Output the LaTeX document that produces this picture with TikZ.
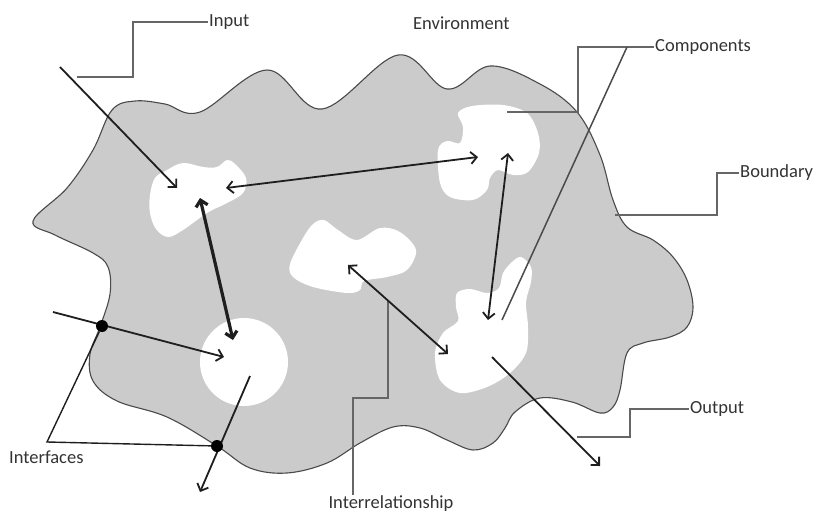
\documentclass[tikz,border=0pt]{standalone}
\usepackage{fontspec}
\setmainfont{Carlito}
\usetikzlibrary{arrows.meta}
\definecolor{blobfill}{HTML}{CBCBCB}
\definecolor{blobedge}{HTML}{4A4A4A}
\definecolor{arrowdark}{HTML}{1E1E1E}
\definecolor{calloutgray}{HTML}{666666}
\definecolor{labelgray}{HTML}{333333}
\begin{document}
\begin{tikzpicture}[x=1pt,y=-1pt,
  lbl/.style={font=\fontsize{18.5}{20}\selectfont, text=labelgray, inner sep=1pt, anchor=west},
  callout/.style={draw=calloutgray, line width=1.9pt},
  barb/.tip={Straight Barb[length=6pt,width=12pt]},
  flow/.style={draw=arrowdark, line width=1.8pt, -barb},
  twoway/.style={draw=arrowdark, line width=1.8pt, barb-barb},
  strong/.style={draw=arrowdark, line width=3.2pt, barb-barb},
  portdot/.style={circle, fill=black, inner sep=0pt, minimum size=12pt},
  part/.style={fill=white, draw=none}
]
\useasboundingbox (0,0) rectangle (819,514);

% system boundary
\filldraw[fill=blobfill, draw=blobedge, line width=1.1pt]
  plot[smooth cycle, tension=0.6] coordinates {
  (33,221) (67,188) (93,150) (112,110) (135,101) (165,104) (200,112)
  (267,70) (322,109) (398,55)
  (447,89) (490,66) (540,84) (577,112) (600,155) (613,200)
  (627,227) (653,240) (673,257) (687,280) (693,307) (687,327) (670,337)
  (643,343) (627,353) (620,390) (613,407) (600,413) (572,402) (540,398)
  (515,412) (505,428) (493,443) (473,450) (447,440) (420,428) (393,427)
  (360,443) (327,463) (287,473) (250,468) (217,446) (167,417) (117,401)
  (93,381) (90,354) (100,327) (110,294) (108,267) (93,253) (55,235)};

% components
\fill[part] plot[smooth cycle, tension=0.6] coordinates {
  (150,195) (155,178) (167,170) (183,163) (203,167) (217,167) (227,160)
  (235,164) (246,178) (243,193) (227,203) (207,213) (183,230) (168,237)
  (156,229) (150,213)};
\fill[part] plot[smooth cycle, tension=0.55] coordinates {
  (458,113) (472,106) (503,105) (527,113) (538,133) (539,153) (528,172)
  (513,175) (498,170) (490,178) (487,190) (473,200) (450,197) (440,183)
  (438,150) (447,141) (460,143) (463,127)};
\fill[part] plot[smooth cycle, tension=0.55] coordinates {
  (290,264) (303,238) (313,224) (324,220) (338,230) (357,240) (380,228)
  (400,232) (416,250) (407,270) (387,277) (364,281) (360,290) (347,293)
  (313,287) (293,277)};
\fill[part] (244,362) circle[radius=44];
\fill[part] plot[smooth cycle, tension=0.55] coordinates {
  (512,262) (521,257) (531,267) (531,282) (526,302) (528,327) (526,353)
  (510,373) (487,387) (460,393) (440,380) (435,353) (443,333) (458,321)
  (456,307) (457,293) (470,289) (487,293) (499,288) (503,273)};

% anchor points
\coordinate (inS) at (60,67);    \coordinate (inE) at (177,188);
\coordinate (tlR) at (226,188);  \coordinate (trL) at (478,157);
\coordinate (tlB) at (200,198);  \coordinate (ciT) at (233,340);
\coordinate (ifS) at (53,312);   \coordinate (ciL) at (224,357);
\coordinate (ciB) at (250,376);  \coordinate (exA) at (200,492);
\coordinate (midC) at (348,265); \coordinate (brL) at (448,354);
\coordinate (trB) at (508,153);  \coordinate (brT) at (488,320);
\coordinate (brC) at (492,357);  \coordinate (exB) at (600,466);

% labels
\node[lbl] (linput) at (208,22) {Input};
\node[lbl] (lenv) at (412,23) {Environment};
\node[lbl] (lcomp) at (654,47) {Components};
\node[lbl] (lbound) at (739,173) {Boundary};
\node[lbl] (lout) at (689,409) {Output};
\node[lbl] (lif) at (8,457) {Interfaces};
\node[lbl, anchor=center] (lrel) at (391,504) {Interrelationship};

% callout leaders
\coordinate (inC) at (77,77);
\draw[callout] (inC) -| (133,22) -- (linput.west);
\coordinate (cpA) at (507,112);
\draw[callout] (cpA) -| (578,47) -- (lcomp.west);
\coordinate (cpB) at (627,47);
\coordinate (cpE) at (502,320);
\draw[arrowdark!80!white, line width=1.5pt] (cpB) -- (cpE);
\coordinate (bdA) at (615,215);
\draw[callout] (bdA) -| (717,173) -- (lbound.west);
\coordinate (otA) at (577,437);
\draw[callout] (otA) -| (630,409) -- (lout.west);
\coordinate (rlA) at (388,300);
\draw[callout, line width=1.6pt] (rlA) -- (388,398) -| (lrel.north -| 353,0);
\coordinate (ifT) at (47,442);

% flows
\draw[flow] (inS) -- (inE);
\draw[twoway] (tlR) -- (trL);
\draw[strong] (tlB) -- (ciT);
\draw[flow] (ifS) -- (ciL);
\draw[flow] (ciB) -- (exA);
\draw[twoway] (midC) -- (brL);
\draw[twoway] (trB) -- (brT);
\draw[flow] (brC) -- (exB);

% interfaces
\node[portdot] (if1) at (102,326) {};
\node[portdot] (if2) at (217,446) {};
\draw[arrowdark, line width=1.4pt] (if1) -- (ifT) -- (if2);

\end{tikzpicture}
\end{document}
